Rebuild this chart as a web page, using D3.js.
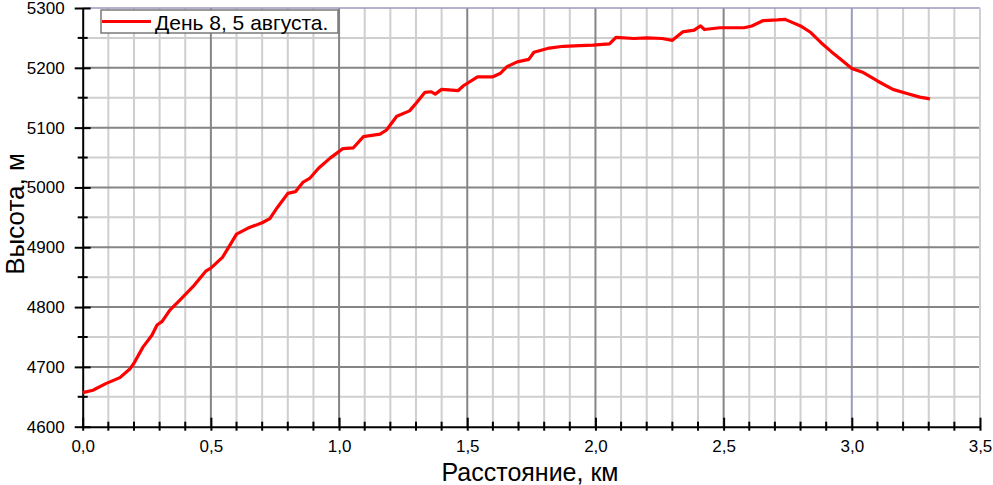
<!DOCTYPE html>
<html><head><meta charset="utf-8">
<script src="https://cdn.jsdelivr.net/npm/d3@7"></script>
<style>body{margin:0;background:#fff}svg{display:block;font-family:Arial,"Liberation Sans",sans-serif}</style>
</head><body><svg id="c" width="993" height="485"></svg>
<script>
const distanceKm = [0.00,0.04,0.09,0.145,0.185,0.20,0.235,0.27,0.29,0.31,0.34,0.38,0.43,0.48,0.50,0.545,0.575,0.60,0.645,0.70,0.73,0.76,0.80,0.83,0.86,0.885,0.92,0.965,0.99,1.015,1.055,1.095,1.16,1.185,1.225,1.275,1.295,1.335,1.36,1.375,1.40,1.465,1.485,1.54,1.60,1.63,1.655,1.695,1.74,1.76,1.82,1.875,1.94,1.99,2.055,2.08,2.15,2.20,2.26,2.30,2.34,2.385,2.41,2.425,2.485,2.58,2.61,2.655,2.71,2.74,2.80,2.84,2.88,2.92,2.96,3.00,3.045,3.10,3.16,3.215,3.265,3.305];
const elevationM = [4657,4661,4672,4682,4697,4706,4733,4753,4770,4776,4795,4812,4834,4860,4865,4883,4904,4922,4932,4941,4948,4967,4990,4993,5009,5015,5032,5049,5057,5065,5066,5085,5089,5096,5119,5128,5138,5159,5160,5156,5164,5162,5170,5185,5185,5191,5202,5210,5214,5226,5233,5236,5237,5238,5240,5251,5249,5250,5249,5246,5260,5263,5270,5264,5267,5267,5270,5279,5280,5281,5270,5259,5242,5227,5213,5199,5192,5178,5164,5157,5151,5148];
const xMajorTicks = [0,0.5,1,1.5,2,2.5,3,3.5];
const yMajorTicks = [4600,4700,4800,4900,5000,5100,5200,5300];
const seriesName = "День 8, 5 августа.";
const xTitle = "Расстояние, км";
const yTitle = "Высота, м";

const svg = d3.select("#c");
const L=82.7, R=980, T=8, B=426.7;
const x = d3.scaleLinear().domain([0,3.5]).range([L,R]);
const y = d3.scaleLinear().domain([4600,5300]).range([B,T]);
const fmt = d => d.toFixed(1).replace(".", ",");

const xMinor = d3.range(0,3.5001,0.1).filter(v=>Math.abs(v*2-Math.round(v*2))>1e-6);
const yMinor = d3.range(4650,5300,100);

const g = svg.append("g");
g.selectAll(".xm").data(xMinor).join("line").attr("x1",d=>x(d)).attr("x2",d=>x(d)).attr("y1",T).attr("y2",B).attr("stroke","#cfcfcf").attr("stroke-width",2);
g.selectAll(".ym").data(yMinor).join("line").attr("x1",L).attr("x2",R).attr("y1",d=>y(d)).attr("y2",d=>y(d)).attr("stroke","#cfcfcf").attr("stroke-width",2);
g.selectAll(".xM").data(xMajorTicks.slice(1,-1)).join("line").attr("x1",d=>x(d)).attr("x2",d=>x(d)).attr("y1",T).attr("y2",B).attr("stroke",d=>d===3?"#9a9ac0":"#858585").attr("stroke-width",2);
g.selectAll(".yM").data(yMajorTicks.slice(1,-1)).join("line").attr("x1",L).attr("x2",R).attr("y1",d=>y(d)).attr("y2",d=>y(d)).attr("stroke","#858585").attr("stroke-width",2);
g.append("line").attr("x1",L).attr("x2",R).attr("y1",T).attr("y2",T).attr("stroke","#9a9ac0").attr("stroke-width",1.5);
g.append("line").attr("x1",R).attr("x2",R).attr("y1",T).attr("y2",B).attr("stroke","#cfcfcf").attr("stroke-width",2);

const xAxis = d3.axisBottom(x).tickValues(xMajorTicks).tickFormat(fmt).tickSizeInner(4).tickSizeOuter(0).tickPadding(9);
const xa = svg.append("g").attr("transform",`translate(0,${B})`).call(xAxis);
xa.select(".domain").attr("stroke","#000").attr("stroke-width",2);
xa.selectAll(".tick line").attr("y1",-9).attr("y2",4).attr("stroke","#000").attr("stroke-width",2);
xa.selectAll("text").attr("font-size",17).attr("fill","#000").attr("font-family","Arial, 'Liberation Sans', sans-serif");
svg.append("g").selectAll("line").data(xMinor).join("line").attr("x1",d=>x(d)).attr("x2",d=>x(d)).attr("y1",B-5).attr("y2",B+4).attr("stroke","#000").attr("stroke-width",2);

const yAxis = d3.axisLeft(y).tickValues(yMajorTicks).tickFormat(d3.format("d")).tickSizeInner(8).tickSizeOuter(0).tickPadding(10);
const ya = svg.append("g").attr("transform",`translate(${L},0)`).call(yAxis);
ya.select(".domain").attr("stroke","#000").attr("stroke-width",2);
ya.selectAll(".tick line").attr("x1",-8).attr("x2",8).attr("stroke","#000").attr("stroke-width",2);
ya.selectAll("text").attr("font-size",17).attr("fill","#000").attr("font-family","Arial, 'Liberation Sans', sans-serif");
svg.append("g").selectAll("line").data(yMinor).join("line").attr("x1",L-5).attr("x2",L+5).attr("y1",d=>y(d)).attr("y2",d=>y(d)).attr("stroke","#000").attr("stroke-width",2);

const data = distanceKm.map((d,i)=>[d,elevationM[i]]);
svg.append("path").datum(data).attr("fill","none").attr("stroke","#ff0000").attr("stroke-width",3.2).attr("stroke-linejoin","round")
  .attr("d", d3.line().x(d=>x(d[0])).y(d=>y(d[1])));

svg.append("text").attr("x",530).attr("y",481).attr("text-anchor","middle").attr("font-size",25).text(xTitle);
svg.append("text").attr("transform","translate(24,214) rotate(-90)").attr("text-anchor","middle").attr("font-size",26).text(yTitle);

const lg = svg.append("g");
lg.append("rect").attr("x",101).attr("y",10).attr("width",237).attr("height",23).attr("fill","#fff").attr("stroke","#7a7a7a").attr("stroke-width",1.5);
lg.append("line").attr("x1",102).attr("x2",151).attr("y1",21.5).attr("y2",21.5).attr("stroke","#ff0000").attr("stroke-width",3.2);
lg.append("text").attr("x",155).attr("y",29.5).attr("font-size",21).text(seriesName);
</script></body></html>
